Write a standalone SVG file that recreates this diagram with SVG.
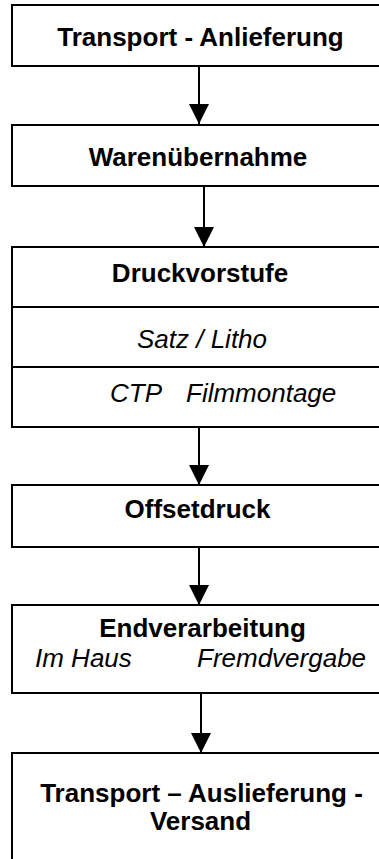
<svg xmlns="http://www.w3.org/2000/svg" width="379" height="859" viewBox="0 0 379 859">
<style>
.box{fill:#fff;stroke:#000;stroke-width:2}
.div{stroke:#000;stroke-width:2}
.b{font-family:"Liberation Sans",Arial,sans-serif;font-weight:bold;font-size:26px;fill:#000;text-anchor:middle}
.i{font-family:"Liberation Sans",Arial,sans-serif;font-style:italic;font-size:26px;fill:#000}
.c{stroke:#000;stroke-width:2;fill:none;marker-end:url(#ah)}
</style>
<defs>
<marker id="ah" markerUnits="userSpaceOnUse" markerWidth="20" markerHeight="20" refX="20" refY="10" orient="auto" viewBox="0 0 20 20">
<path d="M0,0 L20,10 L0,20 z" fill="#000"/>
</marker>
</defs>
<g id="n1"><rect class="box" x="12" y="5" width="380" height="61"/><text class="b" x="200.5" y="46">Transport - Anlieferung</text></g>
<g id="n2"><rect class="box" x="12" y="125" width="380" height="61"/><text class="b" x="198" y="166">Warenübernahme</text></g>
<g id="n3"><rect class="box" x="12" y="247" width="380" height="180"/><line class="div" x1="12" y1="307" x2="392" y2="307"/><line class="div" x1="12" y1="367" x2="392" y2="367"/><text class="b" x="200" y="282">Druckvorstufe</text><text class="i" x="202" y="348" text-anchor="middle">Satz / Litho</text><text class="i" x="110" y="402">CTP</text><text class="i" x="186" y="402">Filmmontage</text></g>
<g id="n4"><rect class="box" x="12" y="485" width="380" height="62"/><text class="b" x="197.5" y="518">Offsetdruck</text></g>
<g id="n5"><rect class="box" x="12" y="605" width="380" height="88"/><text class="b" x="202.5" y="637">Endverarbeitung</text><text class="i" x="35" y="667">Im Haus</text><text class="i" x="197" y="667">Fremdvergabe</text></g>
<g id="n6"><rect class="box" x="12" y="753" width="380" height="120"/><text class="b" x="201.5" y="802">Transport – Auslieferung -</text><text class="b" x="200.5" y="830">Versand</text></g>
<g id="connectors">
<path class="c" d="M199,66 L199,124"/>
<path class="c" d="M204,186 L204,247"/>
<path class="c" d="M199,427 L199,485"/>
<path class="c" d="M199,547 L199,605"/>
<path class="c" d="M201,693 L201,753"/>
</g>
</svg>
